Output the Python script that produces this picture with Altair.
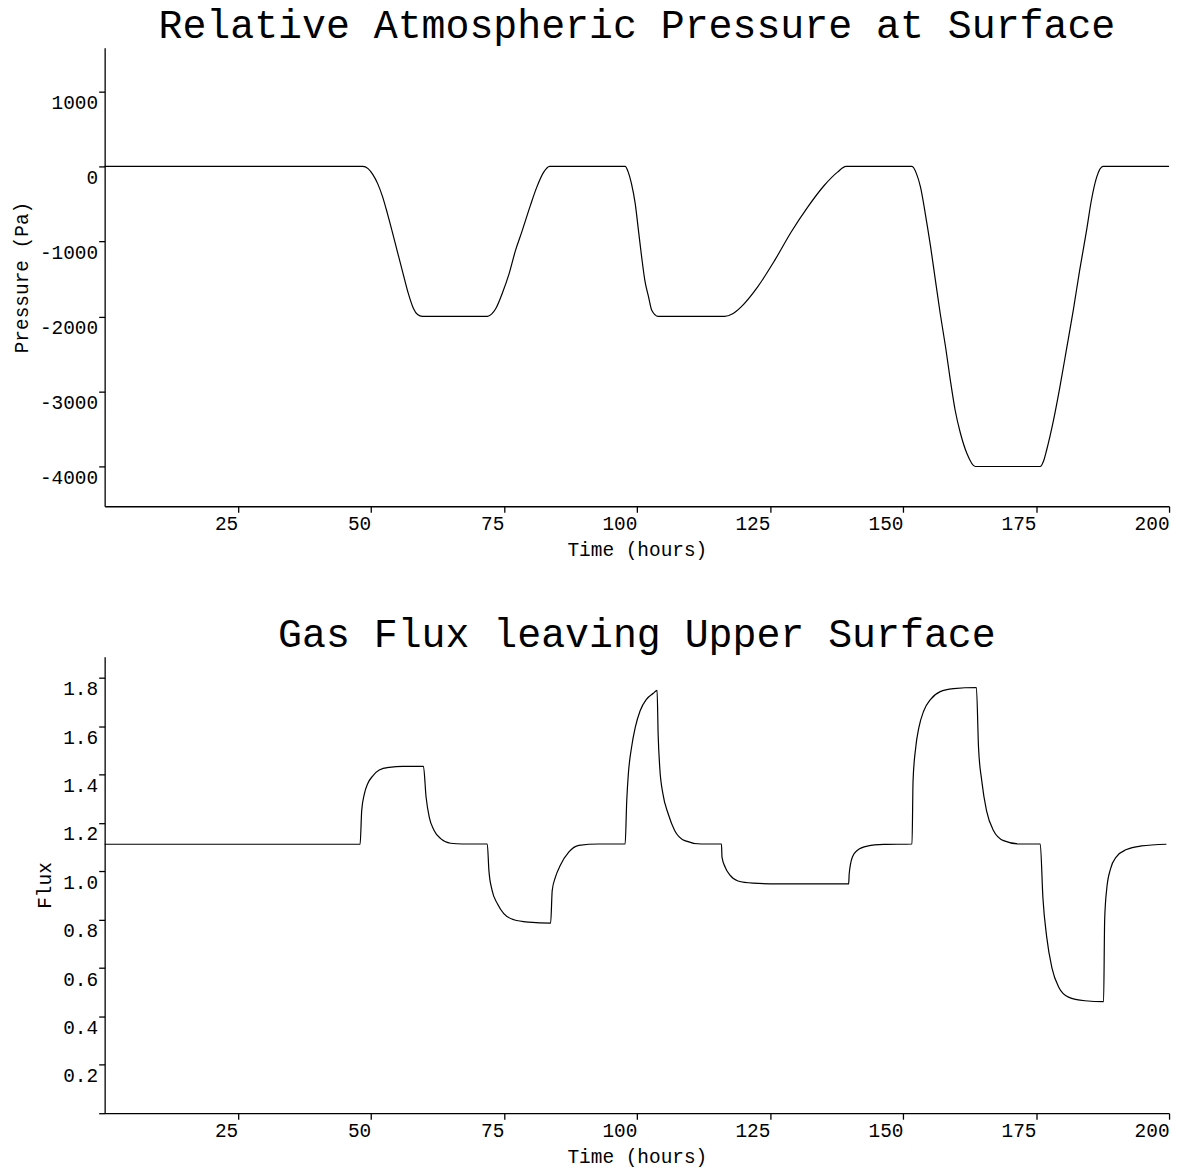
import altair as alt
import pandas as pd

# ---- Relative atmospheric pressure (Pa) vs time (hours) ----
p_time = [0, 48.5, 49.5, 50.4, 51.3, 52.2, 53.1, 54.0, 55.0, 56.0, 57.0, 58.0, 58.8, 59.7,
          71.9, 72.7, 73.5, 74.7, 76.0, 77.2, 78.4, 80.0, 81.2, 82.5, 83.6,
          97.8, 98.4, 99.0, 99.7, 100.3, 100.9, 101.5, 102.2, 102.8, 104.0,
          116.5, 118.0, 119.6, 122.7, 125.9, 129.0, 132.1, 135.2, 137.7, 139.3,
          151.7, 152.5, 153.3, 154.2, 155.2, 156.1, 157.0, 158.0, 158.9, 159.8, 160.8, 162.0, 163.6,
          175.8, 176.4, 177.0, 178.3, 179.5, 180.7, 182.0, 183.2, 184.5, 185.4, 186.4, 187.6, 200]
p_value = [0, 0, -30, -110, -230, -400, -620, -860, -1135, -1410, -1680, -1890, -1975, -2000,
           -2000, -1970, -1895, -1695, -1430, -1120, -870, -520, -277, -77, 0,
           0, -80, -233, -500, -854, -1207, -1519, -1740, -1918, -2000,
           -2000, -1965, -1872, -1606, -1253, -875, -543, -255, -77, 0,
           0, -90, -277, -632, -1074, -1519, -1961, -2404, -2848, -3247, -3557, -3823, -4000,
           -4000, -3930, -3780, -3380, -2936, -2449, -1918, -1386, -854, -455, -144, 0, 0]

# ---- Gas flux leaving upper surface vs time (hours) ----
f_time = [0, 48.0, 48.3, 48.8, 49.4, 50.4, 51.6, 53.5, 56.0, 59.9,
          60.4, 61.0, 61.9, 63.2, 65.0, 67.2, 71.9,
          72.2, 72.8, 73.8, 75.0, 76.9, 79.7, 83.8,
          84.1, 84.7, 85.6, 87.2, 89.1, 92.8, 97.8,
          98.1, 98.4, 99.0, 99.7, 100.6, 101.8, 103.1, 103.8,
          104.0, 104.3, 104.9, 105.9, 107.1, 109.0, 112.1, 115.9,
          116.0, 116.6, 117.5, 119.0, 121.8, 126.5, 139.8,
          139.9, 140.5, 141.4, 143.3, 146.4, 151.7,
          151.9, 152.4, 153.0, 153.9, 155.2, 157.0, 159.5, 163.8,
          164.2, 164.8, 165.7, 167.0, 168.9, 172.0, 175.8,
          176.3, 177.0, 178.0, 179.3, 181.1, 184.2, 187.7,
          187.9, 188.3, 189.0, 190.1, 192.0, 194.8, 199.5]
f_value = [1.112, 1.112, 1.251, 1.320, 1.361, 1.395, 1.419, 1.430, 1.434, 1.434,
           1.306, 1.223, 1.169, 1.134, 1.116, 1.113, 1.113,
           1.004, 0.921, 0.866, 0.825, 0.800, 0.790, 0.786,
           0.921, 0.976, 1.024, 1.079, 1.107, 1.113, 1.113,
           1.292, 1.402, 1.512, 1.595, 1.663, 1.711, 1.736, 1.748,
           1.567, 1.430, 1.320, 1.237, 1.169, 1.127, 1.113, 1.113,
           1.059, 1.017, 0.984, 0.960, 0.951, 0.948, 0.948,
           0.990, 1.059, 1.086, 1.104, 1.111, 1.113,
           1.375, 1.512, 1.595, 1.663, 1.711, 1.743, 1.755, 1.760,
           1.512, 1.375, 1.251, 1.169, 1.127, 1.113, 1.113,
           0.890, 0.730, 0.600, 0.520, 0.480, 0.465, 0.461,
           0.800, 0.930, 1.010, 1.060, 1.090, 1.105, 1.112]

x_ticks = [25, 50, 75, 100, 125, 150, 175, 200]
p_ticks = [-4000, -3000, -2000, -1000, 0, 1000]
f_ticks = [0, 0.2, 0.4, 0.6, 0.8, 1.0, 1.2, 1.4, 1.6, 1.8]

FONT = "Courier New, Liberation Mono, monospace"

pdf = pd.DataFrame({"t": p_time, "v": p_value})
fdf = pd.DataFrame({"t": f_time, "v": f_value})

x_axis = alt.Axis(values=x_ticks, labelAlign="right", labelBaseline="top", labelPadding=2,
                  titlePadding=8, title="Time (hours)")

top = alt.Chart(pdf).mark_line(color="black", strokeWidth=1.2, interpolate="monotone").encode(
    x=alt.X("t:Q", scale=alt.Scale(domain=[0, 200], nice=False), axis=x_axis),
    y=alt.Y("v:Q", scale=alt.Scale(domain=[-4530, 1580], nice=False, zero=False),
            axis=alt.Axis(values=p_ticks, labelBaseline="top", labelPadding=1, labelOffset=2,
                          labelExpr="'' + datum.value", titlePadding=8,
                          title="Pressure (Pa)")),
).properties(
    width=1068, height=460,
    title=alt.TitleParams("Relative Atmospheric Pressure at Surface", fontSize=40,
                          font=FONT, fontWeight="normal", color="black", offset=2),
)

bottom = alt.Chart(fdf).mark_line(color="black", strokeWidth=1.2, interpolate="monotone").encode(
    x=alt.X("t:Q", scale=alt.Scale(domain=[0, 200], nice=False), axis=x_axis),
    y=alt.Y("v:Q", scale=alt.Scale(domain=[0, 1.887], nice=False, zero=False),
            axis=alt.Axis(values=f_ticks, labelBaseline="top", labelPadding=1, labelOffset=2,
                          labelExpr="datum.value == 0 ? '' : format(datum.value, '.1f')",
                          titlePadding=8, title="Flux")),
).properties(
    width=1068, height=458,
    title=alt.TitleParams("Gas Flux leaving Upper Surface", fontSize=40,
                          font=FONT, fontWeight="normal", color="black", offset=2),
)

chart = alt.vconcat(top, bottom, spacing=56).properties(
    padding={"left": 11, "top": 4, "right": 14, "bottom": 0}
).configure_axis(
    labelFont=FONT, titleFont=FONT, labelFontSize=19.5, titleFontSize=19.5,
    titleFontWeight="normal", labelColor="black", titleColor="black",
    domainColor="black", tickColor="black", domainWidth=1.3, tickWidth=1.3,
    tickSize=6, grid=False,
).configure_view(stroke=None)

chart.save("out.html", embed_options={"renderer": "svg", "actions": False})
